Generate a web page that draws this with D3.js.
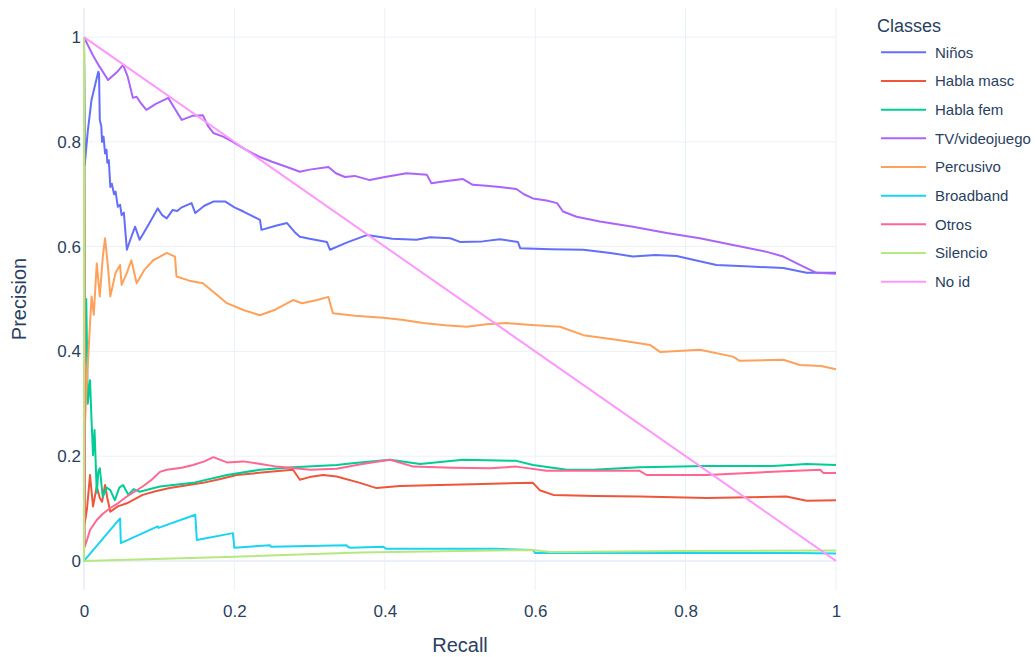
<!DOCTYPE html>
<html>
<head>
<meta charset="utf-8">
<script src="https://cdn.jsdelivr.net/npm/d3@7"></script>
<style>
  html, body { margin: 0; padding: 0; background: #fff; }
  text { font-family: "Liberation Sans", Arial, sans-serif; fill: #2a3f5f; }
</style>
</head>
<body>
<svg id="chart" width="1035" height="657"></svg>
<script>
// ---- Data: [recall, precision] pairs ----
const classNames = ["Niños", "Habla masc", "Habla fem", "TV/videojuego", "Percusivo", "Broadband", "Otros", "Silencio", "No id"];
const classColors = ["#636efa", "#EF553B", "#00cc96", "#ab63fa", "#FFA15A", "#19d3f3", "#FF6692", "#B6E880", "#FF97FF"];
const xTicks = [0, 0.2, 0.4, 0.6, 0.8, 1];
const yTicks = [0, 0.2, 0.4, 0.6, 0.8, 1];

const ninos = [[0,1],[0.001,0.756],[0.005,0.82],[0.01,0.88],[0.015,0.91],[0.019,0.934],[0.02,0.93],[0.021,0.842],[0.023,0.83],[0.024,0.80],[0.026,0.81],[0.028,0.778],[0.03,0.785],[0.031,0.76],[0.033,0.765],[0.035,0.714],[0.037,0.72],[0.04,0.70],[0.042,0.705],[0.045,0.676],[0.048,0.68],[0.05,0.66],[0.053,0.665],[0.057,0.594],[0.062,0.615],[0.068,0.638],[0.074,0.613],[0.085,0.64],[0.098,0.673],[0.104,0.66],[0.11,0.654],[0.118,0.67],[0.124,0.668],[0.13,0.675],[0.143,0.683],[0.148,0.664],[0.16,0.678],[0.172,0.686],[0.188,0.686],[0.2,0.675],[0.212,0.667],[0.234,0.651],[0.236,0.632],[0.255,0.64],[0.27,0.645],[0.28,0.628],[0.287,0.619],[0.3,0.615],[0.323,0.609],[0.327,0.594],[0.35,0.608],[0.376,0.622],[0.41,0.615],[0.442,0.613],[0.46,0.618],[0.487,0.616],[0.5,0.609],[0.53,0.61],[0.553,0.614],[0.577,0.609],[0.58,0.597],[0.62,0.595],[0.664,0.594],[0.7,0.588],[0.73,0.581],[0.76,0.584],[0.788,0.582],[0.81,0.575],[0.841,0.565],[0.886,0.562],[0.93,0.559],[0.961,0.55],[1,0.55]];

const hablaMasc = [[0,1],[0.001,0.072],[0.004,0.10],[0.008,0.164],[0.012,0.104],[0.017,0.142],[0.021,0.12],[0.024,0.113],[0.028,0.145],[0.031,0.12],[0.035,0.094],[0.045,0.104],[0.057,0.11],[0.078,0.126],[0.095,0.133],[0.114,0.139],[0.135,0.144],[0.158,0.149],[0.18,0.156],[0.203,0.164],[0.225,0.167],[0.247,0.17],[0.278,0.174],[0.287,0.155],[0.3,0.16],[0.318,0.164],[0.336,0.161],[0.367,0.149],[0.389,0.139],[0.42,0.143],[0.473,0.145],[0.53,0.147],[0.597,0.149],[0.606,0.135],[0.624,0.126],[0.68,0.124],[0.739,0.123],[0.828,0.12],[0.934,0.123],[0.961,0.115],[1,0.116]];

const hablaFem = [[0,1],[0.001,0.38],[0.003,0.5],[0.005,0.3],[0.008,0.345],[0.01,0.269],[0.012,0.202],[0.014,0.25],[0.017,0.13],[0.019,0.17],[0.021,0.177],[0.025,0.122],[0.03,0.14],[0.035,0.135],[0.041,0.116],[0.047,0.14],[0.052,0.145],[0.059,0.126],[0.066,0.137],[0.074,0.132],[0.101,0.142],[0.145,0.149],[0.19,0.164],[0.234,0.174],[0.278,0.179],[0.336,0.183],[0.36,0.187],[0.407,0.193],[0.447,0.185],[0.504,0.193],[0.575,0.191],[0.597,0.183],[0.642,0.174],[0.677,0.174],[0.739,0.179],[0.828,0.181],[0.916,0.181],[0.961,0.185],[1,0.183]];

const tvVideojuego = [[0,1],[0.005,0.985],[0.012,0.965],[0.02,0.945],[0.032,0.918],[0.045,0.935],[0.052,0.947],[0.058,0.925],[0.065,0.884],[0.07,0.886],[0.075,0.875],[0.083,0.861],[0.095,0.872],[0.112,0.884],[0.12,0.865],[0.13,0.842],[0.145,0.85],[0.158,0.851],[0.165,0.83],[0.172,0.817],[0.185,0.81],[0.198,0.80],[0.215,0.785],[0.234,0.771],[0.25,0.762],[0.27,0.752],[0.287,0.743],[0.3,0.747],[0.325,0.752],[0.335,0.74],[0.347,0.733],[0.36,0.735],[0.38,0.727],[0.4,0.733],[0.429,0.74],[0.456,0.737],[0.462,0.721],[0.48,0.725],[0.504,0.729],[0.517,0.718],[0.535,0.716],[0.553,0.714],[0.575,0.71],[0.585,0.70],[0.597,0.692],[0.615,0.688],[0.629,0.683],[0.637,0.667],[0.655,0.657],[0.686,0.648],[0.73,0.638],[0.775,0.626],[0.819,0.616],[0.863,0.603],[0.908,0.59],[0.93,0.581],[0.952,0.565],[0.974,0.55],[1,0.548]];

const percusivo = [[0,1],[0.001,0.25],[0.003,0.32],[0.006,0.40],[0.01,0.505],[0.013,0.47],[0.017,0.568],[0.021,0.505],[0.025,0.58],[0.028,0.616],[0.032,0.56],[0.035,0.505],[0.042,0.55],[0.048,0.565],[0.05,0.527],[0.057,0.55],[0.063,0.574],[0.07,0.53],[0.08,0.555],[0.092,0.574],[0.1,0.58],[0.11,0.588],[0.121,0.581],[0.123,0.543],[0.14,0.535],[0.158,0.53],[0.175,0.51],[0.19,0.492],[0.212,0.479],[0.234,0.469],[0.255,0.48],[0.278,0.498],[0.29,0.492],[0.31,0.498],[0.325,0.504],[0.331,0.473],[0.36,0.468],[0.398,0.464],[0.425,0.46],[0.451,0.454],[0.48,0.45],[0.509,0.447],[0.535,0.452],[0.562,0.454],[0.6,0.45],[0.633,0.447],[0.664,0.431],[0.708,0.422],[0.753,0.412],[0.766,0.399],[0.819,0.403],[0.863,0.39],[0.872,0.382],[0.93,0.384],[0.952,0.374],[0.98,0.372],[1,0.366]];

const broadband = [[0,1],[0,0],[0.048,0.081],[0.049,0.034],[0.098,0.066],[0.099,0.063],[0.148,0.088],[0.15,0.04],[0.198,0.053],[0.2,0.025],[0.247,0.03],[0.249,0.027],[0.349,0.03],[0.351,0.027],[0.354,0.025],[0.398,0.027],[0.402,0.023],[0.549,0.023],[0.597,0.021],[0.6,0.015],[0.948,0.015],[1,0.014]];

const otros = [[0,1],[0.001,0.027],[0.004,0.04],[0.008,0.059],[0.017,0.078],[0.025,0.09],[0.035,0.101],[0.045,0.11],[0.057,0.123],[0.078,0.142],[0.09,0.155],[0.101,0.17],[0.11,0.174],[0.13,0.178],[0.145,0.183],[0.16,0.19],[0.172,0.198],[0.19,0.188],[0.212,0.19],[0.235,0.185],[0.256,0.18],[0.301,0.174],[0.336,0.176],[0.37,0.185],[0.407,0.193],[0.438,0.18],[0.49,0.178],[0.54,0.177],[0.575,0.18],[0.615,0.172],[0.739,0.172],[0.748,0.164],[0.828,0.164],[0.916,0.17],[0.979,0.174],[0.983,0.168],[1,0.168]];

const silencio = [[0,1],[0,0],[0.2,0.008],[0.367,0.016],[0.597,0.021],[0.62,0.017],[0.8,0.019],[1,0.02]];

const noId = [[0,1],[1,0]];

const seriesData = [ninos, hablaMasc, hablaFem, tvVideojuego, percusivo, broadband, otros, silencio, noId];

// ---- Layout ----
const svg = d3.select("#chart");
const plot = { left: 84, right: 836, top: 8, bottom: 590 };

const x = d3.scaleLinear().domain([0, 1]).range([plot.left, plot.right]);
const y = d3.scaleLinear().domain([-1/18, 1 + 1/18]).range([plot.bottom, plot.top]);

// grid
const grid = svg.append("g");
grid.selectAll("line.vx").data(xTicks).enter().append("line")
  .attr("x1", d => x(d)).attr("x2", d => x(d))
  .attr("y1", plot.top).attr("y2", plot.bottom)
  .attr("stroke", "#ebf0f8").attr("stroke-width", d => d === 0 ? 2 : 1);
grid.selectAll("line.hy").data(yTicks).enter().append("line")
  .attr("x1", plot.left).attr("x2", plot.right)
  .attr("y1", d => y(d)).attr("y2", d => y(d))
  .attr("stroke", "#ebf0f8").attr("stroke-width", d => d === 0 ? 2 : 1);

// axes (labels only)
const fmt = d => d3.format("~g")(d);
const xAxis = svg.append("g").attr("transform", `translate(0,${plot.bottom})`)
  .call(d3.axisBottom(x).tickValues(xTicks).tickFormat(fmt).tickSize(0).tickPadding(15));
const yAxis = svg.append("g").attr("transform", `translate(${plot.left},0)`)
  .call(d3.axisLeft(y).tickValues(yTicks).tickFormat(fmt).tickSize(0).tickPadding(3));
[xAxis, yAxis].forEach(a => {
  a.select(".domain").remove();
  a.selectAll("text").style("font-size", "17px").style("fill", "#2a3f5f")
    .style("font-family", "'Liberation Sans', Arial, sans-serif");
});

// lines
const line = d3.line().x(d => x(d[0])).y(d => y(d[1]));
svg.append("g").selectAll("path").data(seriesData).enter().append("path")
  .attr("d", line)
  .attr("fill", "none")
  .attr("stroke", (d, i) => classColors[i])
  .attr("stroke-width", 2)
  .attr("stroke-linejoin", "round");

// axis titles
svg.append("text").attr("x", x(0.5)).attr("y", 652)
  .attr("text-anchor", "middle").style("font-size", "20px").text("Recall");
svg.append("text").attr("transform", `translate(26,${(plot.top + plot.bottom) / 2}) rotate(-90)`)
  .attr("text-anchor", "middle").style("font-size", "20px").text("Precision");

// legend
const legend = svg.append("g");
legend.append("text").attr("x", 877).attr("y", 32).style("font-size", "18px").text("Classes");
const items = legend.selectAll("g.item").data(classNames).enter().append("g")
  .attr("transform", (d, i) => `translate(0,${52.3 + i * 28.67})`);
items.append("line").attr("x1", 881).attr("x2", 926).attr("y1", 0).attr("y2", 0)
  .attr("stroke", (d, i) => classColors[i]).attr("stroke-width", 2);
items.append("text").attr("x", 935).attr("y", 5.5).style("font-size", "15px").text(d => d);
</script>
</body>
</html>
